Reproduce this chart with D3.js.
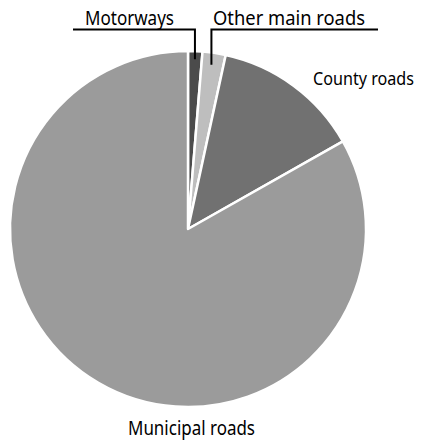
<!DOCTYPE html>
<html>
<head>
<meta charset="utf-8">
<script src="https://cdn.jsdelivr.net/npm/d3@7"></script>
<style>
  body { margin: 0; background: #fff; }
  text { font-family: "Noto Sans", sans-serif; font-size: 19px; fill: #000; }
</style>
</head>
<body>
<div id="chart"></div>
<script>
// Data_____________________________________
const categories = ['Motorways', 'Other main roads', 'County roads', 'Municipal roads'];
const shares = [1.3, 2.1, 13.4, 83.2];
const sliceColors = ['#4b4b4b', '#bebebe', '#717171', '#9b9b9b'];

// Sizes____________________________________
const width = 421;
const height = 443;
const cx = 188;
const cy = 229;
const radius = 178;

const svg = d3.select('#chart')
    .append('svg')
    .attr('width', width)
    .attr('height', height);

const pie = d3.pie().sort(null).value(d => d.value);
const arc = d3.arc().innerRadius(0).outerRadius(radius);

const slices = pie(categories.map((c, i) => ({ name: c, value: shares[i], color: sliceColors[i] })));

const g = svg.append('g')
    .attr('transform', `translate(${cx}, ${cy})`);

g.selectAll('path')
    .data(slices)
    .enter()
    .append('path')
    .attr('d', arc)
    .attr('fill', d => d.data.color)
    .attr('stroke', '#fff')
    .attr('stroke-width', 2.5)
    .attr('stroke-linejoin', 'round');

// Leader lines for the two small slices
const mid = d => (d.startAngle + d.endAngle) / 2;
const pt = (a, r) => [cx + r * Math.sin(a), cy - r * Math.cos(a)];

const pMw = pt(mid(slices[0]), radius - 8);
const pOm = pt(mid(slices[1]), radius - 12);

svg.append('path')
    .attr('d', `M73,29.5 H${pMw[0]} V${pMw[1]}`)
    .attr('fill', 'none')
    .attr('stroke', '#000')
    .attr('stroke-width', 2);

svg.append('path')
    .attr('d', `M378,29.5 H${pOm[0] - 1} V${pOm[1]}`)
    .attr('fill', 'none')
    .attr('stroke', '#000')
    .attr('stroke-width', 2);

// Labels (squeezed a bit, the original face is narrower)
const label = (txt, x, y, len, size) => svg.append('text')
    .attr('x', x)
    .attr('y', y)
    .style('font-size', size + 'px')
    .attr('textLength', len)
    .attr('lengthAdjust', 'spacingAndGlyphs')
    .text(txt);

label(categories[0], 85, 25, 89, 19);
label(categories[1], 213, 25, 152, 19);
label(categories[2], 313, 85, 101, 17.5);
label(categories[3], 128, 435, 127, 19);
</script>
</body>
</html>
